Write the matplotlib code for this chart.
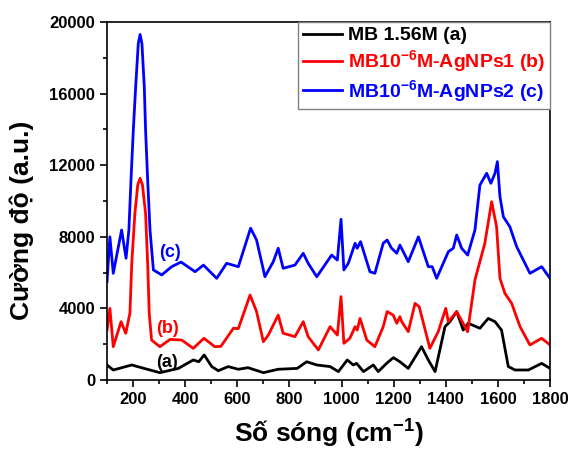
import matplotlib
matplotlib.use("Agg")
import matplotlib.pyplot as plt
from matplotlib.ticker import MultipleLocator

plt.rcParams['font.family'] = ['Liberation Sans', 'DejaVu Sans']
plt.rcParams['font.weight'] = 'bold'
plt.rcParams['mathtext.fontset'] = 'custom'
plt.rcParams['mathtext.rm'] = 'Liberation Sans:bold'
plt.rcParams['mathtext.default'] = 'rm'

# (a) MB 1.56M - black
xa = [100, 124, 195, 242, 303, 374, 431, 452, 473, 502, 527, 565, 604, 641, 700, 757,
      830, 866, 905, 956, 988, 1022, 1045, 1058, 1084, 1122, 1141, 1173, 1199, 1224,
      1256, 1307, 1333, 1359, 1397, 1416, 1442, 1467, 1486, 1531, 1563, 1589, 1614,
      1640, 1666, 1717, 1768, 1800]
ya = [840, 560, 840, 650, 410, 650, 1120, 1020, 1400, 750, 520, 750, 600, 690, 410, 600,
      650, 1020, 840, 750, 470, 1120, 840, 930, 470, 840, 470, 930, 1250, 1020,
      650, 1860, 1120, 470, 2980, 3260, 3820, 2790, 3170, 2890, 3440, 3260, 2790,
      750, 560, 560, 930, 650]

# (b) MB10^-6M-AgNPs1 - red
xb = [100, 111, 124, 154, 172, 188, 195, 207, 218, 227, 236, 248, 256, 262, 271, 303,
      342, 387, 431, 472, 514, 537, 585, 604, 649, 674, 700, 719, 757, 776, 801, 821,
      853, 872, 911, 956, 984, 998, 1009, 1032, 1052, 1060, 1071, 1097, 1128, 1160,
      1175, 1198, 1212, 1224, 1231, 1256, 1282, 1298, 1339, 1371, 1400, 1410, 1442,
      1484, 1512, 1550, 1576, 1595, 1608, 1627, 1653, 1685, 1723, 1768, 1800]
yb = [2790, 4000, 1860, 3260, 2610, 3740, 6520, 9310, 10900, 11270, 10900, 9310, 6520,
      3740, 2230, 1860, 2270, 2230, 1770, 2330, 1860, 1880, 2890, 2870, 4750, 3820,
      2140, 2510, 3630, 2610, 2510, 2420, 3260, 2420, 1680, 2980, 2510, 4660, 2050,
      2330, 2980, 2790, 3440, 2230, 1860, 2980, 3820, 3630, 3170, 3540, 3260, 2700,
      4280, 4100, 1770, 2700, 4000, 3260, 3820, 2700, 5590, 7640, 9960, 8560, 5680,
      4840, 4280, 2980, 1960, 2330, 1960]

# (c) MB10^-6M-AgNPs2 - blue
xc = [100, 111, 124, 156, 173, 184, 192, 201, 210, 220, 227, 234, 243, 248, 256, 265,
      278, 310, 348, 384, 438, 470, 521, 559, 604, 651, 674, 706, 738, 757, 776, 821,
      853, 872, 905, 962, 984, 998, 1009, 1026, 1052, 1060, 1073, 1109, 1128, 1160,
      1175, 1192, 1212, 1224, 1256, 1295, 1333, 1348, 1365, 1410, 1429, 1442, 1461,
      1484, 1512, 1531, 1557, 1573, 1589, 1598, 1608, 1621, 1646, 1672, 1723, 1768,
      1800]
yc = [5490, 8000, 5960, 8380, 6800, 8400, 11170, 13970, 16390, 18800, 19300, 18800,
      16390, 13970, 11170, 8380, 6150, 5870, 6330, 6590, 6050, 6420, 5680, 6520, 6330,
      8480, 7820, 5770, 6610, 7360, 6240, 6420, 7080, 6520, 5770, 6980, 6700, 8980,
      6150, 6520, 7640, 7360, 7730, 6050, 5960, 7640, 7820, 7360, 7080, 7540, 6610,
      8000, 6330, 6330, 5680, 7170, 7360, 8100, 7360, 6980, 8380, 10890, 11550, 10990,
      11550, 12200, 10240, 9120, 8560, 7450, 5960, 6330, 5680]

labels = ['MB 1.56M (a)', 'MB10$^{-6}$M-AgNPs1 (b)', 'MB10$^{-6}$M-AgNPs2 (c)']
colors = ['black', '#ff0000', '#0000ff']

fig = plt.figure(figsize=(5.68, 4.51), dpi=100)
ax = fig.add_axes([0.1884, 0.1574, 0.7799, 0.7938])

ax.plot(xa, ya, color=colors[0], lw=2.0, label=labels[0])
ax.plot(xb, yb, color=colors[1], lw=2.0, label=labels[1])
ax.plot(xc, yc, color=colors[2], lw=2.0, label=labels[2])

ax.text(342, 7150, '(c)', color=colors[2], fontsize=13, fontweight='bold', ha='center', va='center')
ax.text(334, 2900, '(b)', color=colors[1], fontsize=13, fontweight='bold', ha='center', va='center')
ax.text(330, 1000, '(a)', color=colors[0], fontsize=13, fontweight='bold', ha='center', va='center')

ax.set_xlim(100, 1800)
ax.set_ylim(0, 20000)
ax.xaxis.set_major_locator(MultipleLocator(200))
ax.xaxis.set_minor_locator(MultipleLocator(100))
ax.yaxis.set_major_locator(MultipleLocator(4000))
ax.yaxis.set_minor_locator(MultipleLocator(2000))
ax.tick_params(which='both', direction='out', width=1.2, labelsize=12)
ax.tick_params(which='major', length=5)
ax.tick_params(which='minor', length=3)
for s in ax.spines.values():
    s.set_linewidth(1.2)

ax.set_xlabel('Số sóng (cm$^{-1}$)', fontsize=19, fontweight='bold')
ax.set_ylabel('Cường độ (a.u.)', fontsize=19, fontweight='bold')
ax.xaxis.set_label_coords(0.5, -0.105)
ax.yaxis.set_label_coords(-0.165, 0.447)

leg = ax.legend(loc='upper right', borderaxespad=0, fancybox=False, framealpha=1,
                edgecolor='gray', fontsize=14, handlelength=2.0, handletextpad=0.3,
                labelspacing=0.2, borderpad=0.25)
leg.get_frame().set_linewidth(1.0)
for t, c in zip(leg.get_texts(), colors):
    t.set_color(c)

fig.savefig('out.png', dpi=100)
